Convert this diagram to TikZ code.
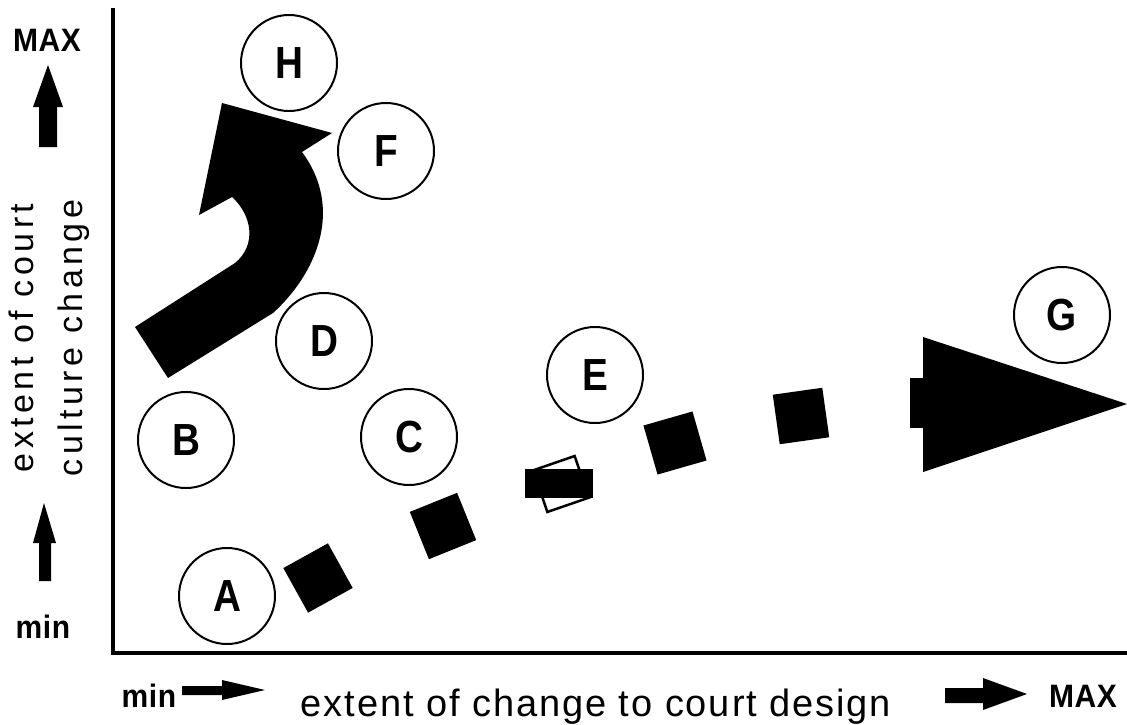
\documentclass[tikz,border=0pt]{standalone}
\usepackage{fontspec}
\setmainfont{Liberation Sans}
\newcommand{\narrowtxt}[1]{\scalebox{0.86}[1]{#1}}
\newcommand{\talltxt}[1]{\scalebox{1}[1.08]{#1}}
\begin{document}
\begin{tikzpicture}[x=1pt,y=-1pt,
  lbl/.style={circle,draw,line width=2pt,minimum size=96pt,inner sep=0pt,font=\fontsize{45}{47}\selectfont\bfseries},
  sq/.style={fill=black,draw=none,minimum size=51pt,inner sep=0pt},
  bold/.style={font=\fontsize{30}{32}\selectfont\bfseries\addfontfeatures{LetterSpace=2}},
  axlbl/.style={font=\fontsize{34}{36}\selectfont\addfontfeatures{LetterSpace=13}}]
\useasboundingbox (0,0) rectangle (1127,725);
% axes
\draw[line width=4pt] (113,8) -- (113,653) -- (1127,653);
% circles
\node[lbl] (H) at (289,63) {\narrowtxt{H}};
\node[lbl] (F) at (386,151) {\narrowtxt{F}};
\node[lbl] (D) at (324,341) {\narrowtxt{D}};
\node[lbl] (B) at (186,440) {\narrowtxt{B}};
\node[lbl] (C) at (409,437) {\narrowtxt{C}};
\node[lbl] (E) at (595,375) {\narrowtxt{E}};
\node[lbl] (G) at (1062,315) {\narrowtxt{G}};
\node[lbl] (A) at (227,596) {\narrowtxt{A}};
% curved arrow
\fill (135,327) -- (168,378) -- (273,313) .. controls (315,275) and (345,210) .. (302,152)
  -- (332,133) -- (222,103) -- (199,215) -- (232,197)
  .. controls (252,215) and (257,245) .. (235,263) -- cycle;
% dashed path of squares
\node[sq,rotate=29] (s1) at (318,578) {};
\node[sq,rotate=22] (s2) at (443,526) {};
\node[draw,line width=2.5pt,minimum size=44pt,inner sep=0pt,rotate=19] (s0) at (561,484) {};
\fill (525,469) rectangle (593,498);
\node[sq,rotate=16] (s3) at (675,443) {};
\node[sq,rotate=8,minimum size=50pt] (s4) at (801,416) {};
% big arrowhead
\fill (910,378) rectangle (924,428);
\fill (923,337) -- (1127,404) -- (923,472) -- cycle;
% left arrows
\fill (48,65) -- (63,107) -- (57,107) -- (57,147) -- (39,147) -- (39,107) -- (33,107) -- cycle;
\fill (44,503) -- (56,543) -- (51,543) -- (51,581) -- (39,581) -- (39,543) -- (33,543) -- cycle;
% bottom arrows
\fill (182,686) -- (222,686) -- (222,680) -- (265,690) -- (222,700) -- (222,695) -- (182,695) -- cycle;
\fill (945,688) -- (983,688) -- (983,678) -- (1027,694) -- (983,710) -- (983,703) -- (945,703) -- cycle;
% labels
\node[bold,anchor=base] (maxl) at (47,52) {\talltxt{MAX}};
\node[bold,anchor=base] (minl) at (43,638) {\talltxt{min}};
\node[bold,anchor=base] (minb) at (149,707) {\talltxt{min}};
\node[bold,anchor=base] (maxb) at (1083,707) {\talltxt{MAX}};
\node[axlbl,anchor=base,rotate=90] (yl1) at (33,338) {extent of court};
\node[axlbl,anchor=base,rotate=90] (yl2) at (82,338) {culture change};
\node[font=\fontsize{38}{40}\selectfont\addfontfeatures{LetterSpace=5},anchor=base] (xl) at (596,716) {extent of change to court design};
\end{tikzpicture}
\end{document}
